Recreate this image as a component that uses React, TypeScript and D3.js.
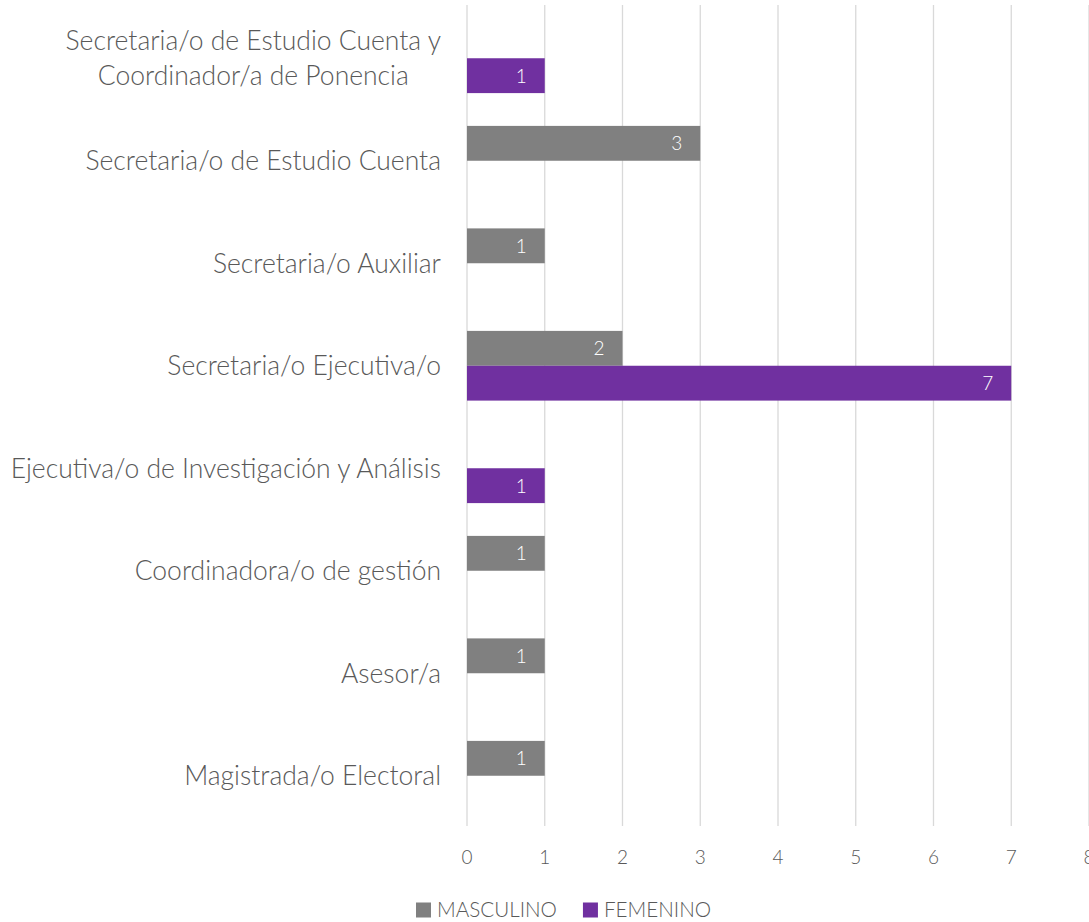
import { useEffect, useRef } from 'react';
import * as d3 from 'd3';

const categories = [
  'Secretaria/o de Estudio Cuenta y Coordinador/a de Ponencia',
  'Secretaria/o de Estudio Cuenta',
  'Secretaria/o Auxiliar',
  'Secretaria/o Ejecutiva/o',
  'Ejecutiva/o de Investigación y Análisis',
  'Coordinadora/o de gestión ',
  'Asesor/a',
  'Magistrada/o Electoral',
];
const masculino: (number | null)[] = [null, 3, 1, 2, null, 1, 1, 1];
const femenino: (number | null)[] = [1, null, null, 7, 1, null, null, null];
const seriesNames = ['MASCULINO', 'FEMENINO'];
const seriesColors = ['#808080', '#7030A0'];
const xTicks = [0, 1, 2, 3, 4, 5, 6, 7, 8];

const FONT = 'Lato, "Noto Sans", sans-serif';

export default function App() {
  const svgRef = useRef<SVGSVGElement>(null);

  useEffect(() => {
    if (!svgRef.current) return;
    const width = 1089;
    const height = 922;
    const svg = d3.select(svgRef.current);
    svg.selectAll('*').remove();

    const x = d3.scaleLinear().domain([0, 8]).range([467, 1089]);
    const y = d3.scaleBand<string>().domain(categories).range([7, 827]).paddingInner(0.32).paddingOuter(0.16);
    const inner = d3.scaleBand<string>().domain(seriesNames).range([0, y.bandwidth()]);

    const g = svg.append('g');

    // gridlines
    g.selectAll('line.grid')
      .data(xTicks)
      .join('line')
      .attr('class', 'grid')
      .attr('x1', (d) => x(d))
      .attr('x2', (d) => x(d))
      .attr('y1', 5)
      .attr('y2', 826)
      .attr('stroke', '#d9d9d9')
      .attr('stroke-width', 1.3);

    g.selectAll('text.tick')
      .data(xTicks)
      .join('text')
      .attr('class', 'tick')
      .attr('x', (d) => x(d))
      .attr('y', 864)
      .attr('text-anchor', 'middle')
      .attr('font-family', FONT)
      .attr('font-weight', 300)
      .attr('font-size', 19)
      .attr('fill', '#595959')
      .text((d) => d);

    const rows = categories.flatMap((c, i) => [
      { cat: c, series: seriesNames[0], value: masculino[i], color: seriesColors[0] },
      { cat: c, series: seriesNames[1], value: femenino[i], color: seriesColors[1] },
    ]).filter((r) => r.value != null) as { cat: string; series: string; value: number; color: string }[];

    const bars = g.selectAll('g.bar')
      .data(rows)
      .join('g')
      .attr('class', 'bar')
      .attr('transform', (d) => `translate(0, ${y(d.cat)! + inner(d.series)!})`);

    bars.append('rect')
      .attr('x', x(0))
      .attr('width', (d) => x(d.value) - x(0))
      .attr('height', inner.bandwidth())
      .attr('fill', (d) => d.color);

    bars.append('text')
      .attr('x', (d) => x(d.value) - 18)
      .attr('y', inner.bandwidth() / 2)
      .attr('dy', '0.36em')
      .attr('text-anchor', 'end')
      .attr('font-family', FONT)
      .attr('font-weight', 300)
      .attr('font-size', 19)
      .attr('fill', '#ffffff')
      .text((d) => d.value);

    // category labels
    const labelRight = 441;
    categories.forEach((c) => {
      const cy = y(c)! + y.bandwidth() / 2;
      const lines = c.length > 40 ? ['Secretaria/o de Estudio Cuenta y', 'Coordinador/a de Ponencia'] : [c];
      const t = g.append('text')
        .attr('font-family', FONT)
        .attr('font-weight', 300)
        .attr('font-size', 26.5)
        .attr('fill', '#595959')
        .attr('text-anchor', 'middle');
      const lh = 35;
      lines.forEach((l, i) => {
        t.append('tspan')
          .attr('y', cy + (i - (lines.length - 1) / 2) * lh)
          .attr('dy', '0.35em')
          .text(l);
      });
      const widths = t.selectAll<SVGTSpanElement, unknown>('tspan').nodes().map((n) => n.getComputedTextLength());
      const maxW = d3.max(widths) ?? 0;
      t.selectAll('tspan').attr('x', labelRight - maxW / 2);
    });

    // legend
    const legend = g.append('g').attr('transform', 'translate(0, 910)');
    const probe = legend.append('text')
      .attr('font-family', FONT)
      .attr('font-weight', 300)
      .attr('font-size', 20)
      .text(seriesNames[0]);
    const legendSize = 20 * 120 / probe.node()!.getComputedTextLength();
    probe.remove();
    let lx = 416;
    seriesNames.forEach((s, i) => {
      legend.append('rect')
        .attr('x', lx)
        .attr('y', -7.5)
        .attr('width', 15)
        .attr('height', 15)
        .attr('fill', seriesColors[i]);
      const t = legend.append('text')
        .attr('x', lx + 21)
        .attr('y', 0)
        .attr('dy', '0.36em')
        .attr('font-family', FONT)
        .attr('font-weight', 300)
        .attr('font-size', legendSize)
        .attr('fill', '#595959')
        .text(s);
      lx += 21 + t.node()!.getComputedTextLength() + 26;
    });

    svg.attr('width', width).attr('height', height);
  }, []);

  return (
    <div style={{ position: 'absolute', left: 0, top: 0, background: '#fff' }}>
      <svg ref={svgRef} width={1089} height={922} style={{ display: 'block' }} />
    </div>
  );
}
